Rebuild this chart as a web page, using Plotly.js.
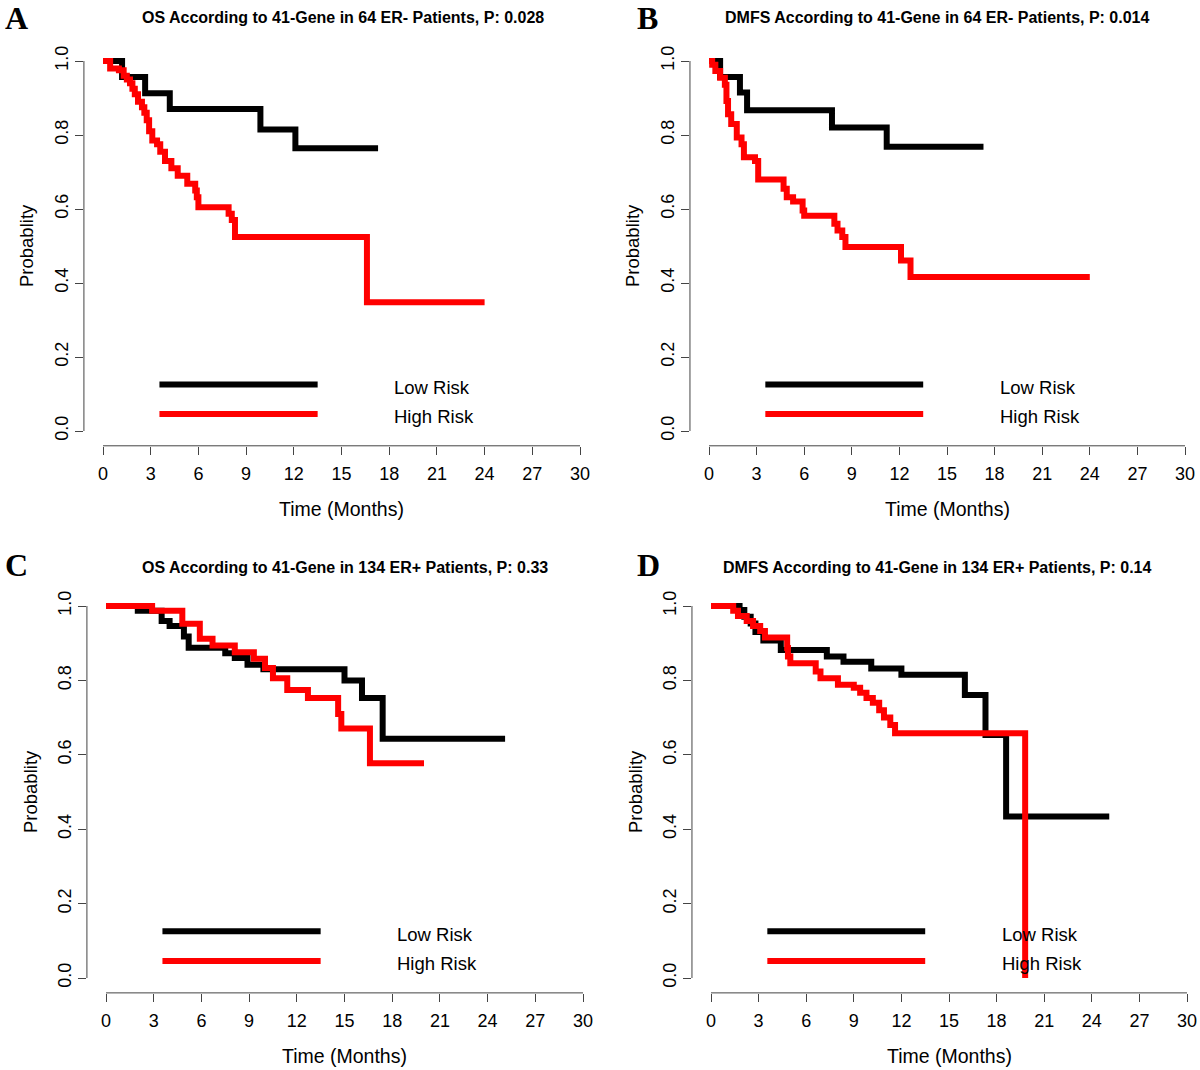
<!DOCTYPE html>
<html>
<head>
<meta charset="utf-8">
<script src="https://cdn.plot.ly/plotly-3.0.1.min.js"></script>
<style>body{margin:0;background:#fff}</style>
</head>
<body>
<div id="chart" style="width:1200px;height:1070px"></div>
<script>
// Kaplan-Meier steps: time in months, survival probability
// A: OS, ER- patients
var osNegLowT  = [0, 1.2, 2.65, 4.2, 9.9, 12.1, 17.3]
var osNegLowS  = [1, 0.957, 0.913, 0.87, 0.815, 0.764, 0.764]
var osNegHighT = [0, 0.45, 1.0, 1.3, 1.5, 1.7, 1.85, 2.0, 2.2, 2.45, 2.6, 2.75, 2.9, 3.1, 3.4, 3.6, 3.9, 4.3, 4.7, 5.3, 5.8, 5.9, 6.0, 7.9, 8.1, 8.3, 16.6, 24.0]
var osNegHighS = [1, 0.98, 0.975, 0.96, 0.95, 0.94, 0.925, 0.91, 0.89, 0.875, 0.86, 0.84, 0.81, 0.785, 0.775, 0.755, 0.73, 0.71, 0.69, 0.668, 0.65, 0.632, 0.605, 0.587, 0.57, 0.524, 0.348, 0.348]
// B: DMFS, ER- patients
var dmNegLowT  = [0, 0.7, 1.95, 2.4, 7.75, 11.2, 17.3]
var dmNegLowS  = [1, 0.957, 0.915, 0.867, 0.82, 0.768, 0.768]
var dmNegHighT = [0, 0.2, 0.4, 0.7, 1.0, 1.1, 1.2, 1.4, 1.75, 2.05, 2.2, 2.9, 3.1, 4.7, 4.9, 5.3, 5.9, 6.0, 7.9, 8.1, 8.4, 8.6, 12.1, 12.7, 24.0]
var dmNegHighS = [1, 0.99, 0.973, 0.955, 0.936, 0.892, 0.856, 0.83, 0.793, 0.775, 0.74, 0.73, 0.68, 0.655, 0.632, 0.62, 0.596, 0.582, 0.56, 0.542, 0.524, 0.497, 0.461, 0.416, 0.416]
// C: OS, ER+ patients
var osPosLowT  = [0, 2.0, 3.5, 4.0, 4.9, 5.2, 7.5, 8.1, 8.9, 9.9, 15.0, 16.1, 17.4, 25.1]
var osPosLowS  = [1, 0.987, 0.96, 0.946, 0.918, 0.888, 0.873, 0.86, 0.842, 0.83, 0.8, 0.753, 0.643, 0.643]
var osPosHighT = [0, 2.9, 4.8, 5.9, 6.7, 8.1, 9.3, 10.0, 10.5, 11.4, 12.7, 14.6, 14.8, 16.6, 20.0]
var osPosHighS = [1, 0.987, 0.952, 0.912, 0.894, 0.876, 0.858, 0.833, 0.806, 0.774, 0.753, 0.71, 0.671, 0.577, 0.577]
// D: DMFS, ER+ patients
var dmPosLowT  = [0, 1.8, 2.1, 2.5, 2.8, 3.3, 4.4, 7.3, 8.35, 10.1, 12.0, 16.0, 17.3, 18.6, 25.1]
var dmPosLowS  = [1, 0.989, 0.971, 0.953, 0.93, 0.907, 0.882, 0.864, 0.85, 0.832, 0.815, 0.761, 0.653, 0.434, 0.434]
var dmPosHighT = [0, 1.4, 1.7, 2.25, 2.65, 3.1, 3.4, 4.8, 4.85, 5.0, 6.6, 6.9, 8.0, 9.0, 9.4, 9.8, 10.2, 10.6, 10.9, 11.3, 11.6, 19.8]
var dmPosHighS = [1, 0.987, 0.973, 0.96, 0.946, 0.933, 0.915, 0.887, 0.864, 0.846, 0.824, 0.806, 0.788, 0.78, 0.767, 0.753, 0.74, 0.72, 0.7, 0.68, 0.658, 0]

var xTicks = [0, 3, 6, 9, 12, 15, 18, 21, 24, 27, 30]
var yTicks = [0, 0.2, 0.4, 0.6, 0.8, 1.0]
var groupNames = ['Low Risk', 'High Risk']
var groupColors = ['#000000', '#ff0000']
var letters = ['A', 'B', 'C', 'D']
var titles = [
    'OS According to 41-Gene in 64 ER- Patients, P: 0.028',
    'DMFS According to 41-Gene in 64 ER- Patients, P: 0.014',
    'OS According to 41-Gene in 134 ER+ Patients, P: 0.33',
    'DMFS According to 41-Gene in 134 ER+ Patients, P: 0.14'
]
var curves = [
    [[osNegLowT, osNegLowS], [osNegHighT, osNegHighS]],
    [[dmNegLowT, dmNegLowS], [dmNegHighT, dmNegHighS]],
    [[osPosLowT, osPosLowS], [osPosHighT, osPosHighS]],
    [[dmPosLowT, dmPosLowS], [dmPosHighT, dmPosHighS]]
]

// pixel positions of x=0, x=30, y=1, y=0 for each panel, plus title/letter spots
var W = 1200, H = 1070
var panels = [
    {x0: 103, x30: 580, y1: 61, y0: 431, titleX: 343, titleY: 18, letX: 16, letY: 18},
    {x0: 709, x30: 1185, y1: 61, y0: 431, titleX: 937, titleY: 18, letX: 647, letY: 18},
    {x0: 106, x30: 583, y1: 606, y0: 978, titleX: 345, titleY: 567, letX: 16, letY: 565},
    {x0: 711, x30: 1187, y1: 606, y0: 978, titleX: 937, titleY: 567, letX: 648, letY: 565}
]
var legendX = [3.55, 13.5], legendTextX = 18.2, legendY = [0.126, 0.046]

var font = 'Arial, "Liberation Sans", sans-serif'
var traces = [], shapes = [], annotations = []
var layout = {
    width: W, height: H,
    margin: {l: 0, r: 0, t: 0, b: 0},
    paper_bgcolor: '#fff', plot_bgcolor: '#fff',
    showlegend: false,
    font: {family: font, color: '#000', size: 18}
}

function label(x, y, text, size, extra){
    var a = {xref: 'paper', yref: 'paper', x: x / W, y: 1 - y / H, xanchor: 'center', yanchor: 'middle',
             text: text, showarrow: false, font: {size: size}}
    for (var k in extra) a[k] = extra[k]
    return a
}

panels.forEach(function(p, i){
    var n = i == 0 ? '' : String(i + 1)
    var xa = 'x' + n, ya = 'y' + n
    var pxPerX = (p.x30 - p.x0) / 30, pxPerY = (p.y0 - p.y1)
    // R pads the data range by 4% on each side
    var left = p.x0 - 1.2 * pxPerX, right = Math.min(W, p.x30 + 1.2 * pxPerX)
    var top = p.y1 - 0.04 * pxPerY, bottom = p.y0 + 0.04 * pxPerY
    layout['xaxis' + n] = {
        anchor: ya,
        domain: [left / W, right / W],
        range: [(left - p.x0) / pxPerX, (right - p.x0) / pxPerX],
        tickvals: xTicks, ticks: 'outside', ticklen: 8, tickcolor: '#444',
        showgrid: false, zeroline: false, showline: false,
        tickfont: {size: 18, family: font, color: '#000'},
        ticklabelstandoff: 4
    }
    layout['yaxis' + n] = {
        anchor: xa,
        domain: [1 - bottom / H, 1 - top / H],
        range: [-0.04, 1.04],
        tickvals: yTicks, tickformat: '.1f', tickangle: -90,
        ticks: 'outside', ticklen: 8, tickcolor: '#444',
        showgrid: false, zeroline: false, showline: false,
        tickfont: {size: 18, family: font, color: '#000'}
    }
    // axis lines only between first and last tick, as R draws them
    shapes.push({type: 'line', xref: xa, yref: ya + ' domain', x0: xTicks[0], x1: xTicks[xTicks.length - 1], y0: 0, y1: 0, line: {color: '#444', width: 1}})
    shapes.push({type: 'line', xref: xa + ' domain', yref: ya, x0: 0, x1: 0, y0: yTicks[0], y1: yTicks[yTicks.length - 1], line: {color: '#444', width: 1}})

    curves[i].forEach(function(c, g){
        traces.push({
            x: c[0], y: c[1], xaxis: xa, yaxis: ya,
            type: 'scatter', mode: 'lines', name: groupNames[g],
            line: {shape: 'hv', color: groupColors[g], width: 6},
            hoverinfo: 'skip'
        })
        shapes.push({type: 'line', xref: xa, yref: ya, x0: legendX[0], x1: legendX[1], y0: legendY[g], y1: legendY[g], line: {color: groupColors[g], width: 6}})
        annotations.push({xref: xa, yref: ya, x: legendTextX, y: legendY[g], xanchor: 'left', yanchor: 'middle', yshift: -3, text: groupNames[g], showarrow: false, font: {size: 18.5}})
    })

    annotations.push(label(p.titleX, p.titleY, '<b>' + titles[i] + '</b>', 16))
    annotations.push(label(p.letX, p.letY, '<b>' + letters[i] + '</b>', 32, {font: {size: 32, family: '"Liberation Serif", "Times New Roman", serif'}}))
    annotations.push(label((p.x0 + p.x30) / 2, p.y0 + 78, 'Time (Months)', 19.5))
    annotations.push(label(p.x0 - 76, (p.y0 + p.y1) / 2, 'Probablity', 18.5, {textangle: -90}))
})

layout.shapes = shapes
layout.annotations = annotations
Plotly.newPlot('chart', traces, layout, {displayModeBar: false, staticPlot: true})
</script>
</body>
</html>
